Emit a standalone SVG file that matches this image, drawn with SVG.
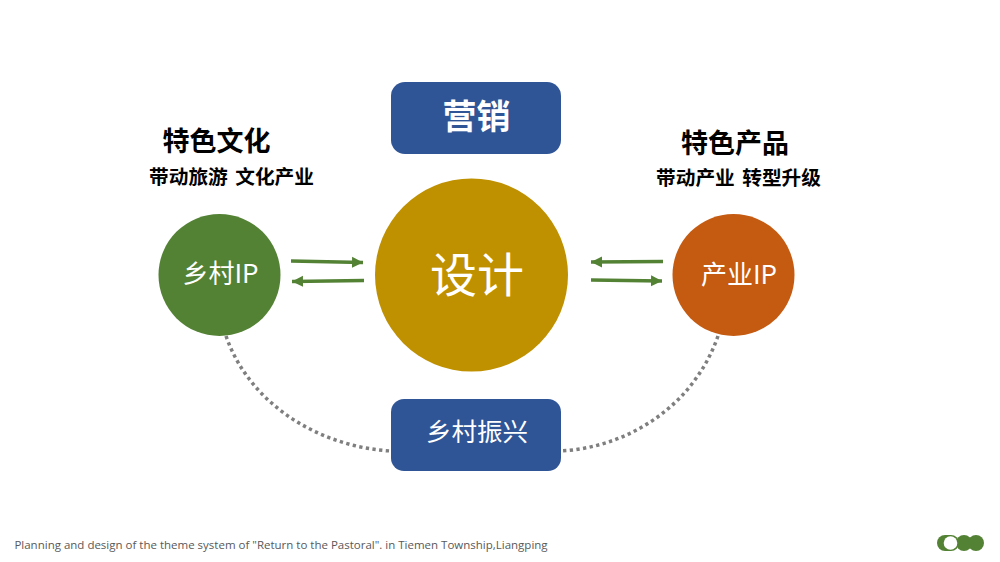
<svg xmlns="http://www.w3.org/2000/svg" width="1000" height="562" viewBox="0 0 1000 562">
<style>
text{font-family:"Noto Sans CJK SC","Liberation Sans",sans-serif;text-anchor:middle}
.w{fill:#fff}
.b{fill:#000;font-weight:700}
.s{font-size:19.700px;word-spacing:3px}
.a{stroke:#548235;stroke-width:3.500;fill:none;marker-end:url(#ah)}
.d{stroke:#7f7f7f;stroke-width:3.500;stroke-dasharray:3.300 3.400;fill:none}
</style>
<defs><marker id="ah" markerUnits="userSpaceOnUse" markerWidth="12" markerHeight="12" refX="11" refY="6" orient="auto"><path d="M0 0.500L11 6L0 11.500z" fill="#548235"/></marker></defs>
<rect width="1000" height="562" fill="#fff"/>
<g id="connectors">
<path class="a" d="M291 261L363 262.500"/>
<path class="a" d="M364 280.500L292 281.500"/>
<path class="a" d="M663 261.500L591 262"/>
<path class="a" d="M591 280L662 281"/>
<path class="d" d="M226 336C250 405 320 447 391 451"/>
<path class="d" d="M718 336C694 405 630 447 561 451"/>
</g>
<g id="node-marketing"><rect x="391" y="82" width="170" height="72" rx="14" fill="#2f5597"/><text class="w" x="476.500" y="129" font-size="34" font-weight="700">营销</text></g>
<g id="node-design"><circle cx="471.500" cy="275" r="96.500" fill="#bf9000"/><text class="w" x="477" y="292" font-size="47">设计</text></g>
<g id="node-village-ip"><circle cx="219.500" cy="275" r="61" fill="#548235"/><text class="w" x="220.500" y="283" font-size="26">乡村IP</text></g>
<g id="node-industry-ip"><circle cx="733.500" cy="275" r="61" fill="#c55a11"/><text class="w" x="739" y="284" font-size="26">产业IP</text></g>
<g id="node-revival"><rect x="391" y="399" width="170" height="72" rx="13" fill="#2f5597"/><text class="w" x="477" y="441" font-size="25.500">乡村振兴</text></g>
<g id="label-left"><text class="b" x="216.500" y="151" font-size="27">特色文化</text><text class="b s" x="231.500" y="184">带动旅游 文化产业</text></g>
<g id="label-right"><text class="b" x="735" y="153" font-size="27">特色产品</text><text class="b s" x="738.500" y="185">带动产业 转型升级</text></g>
<text x="281" y="549" font-size="11.500" fill="#595959" style="font-family:'Open Sans','Liberation Sans',sans-serif">Planning and design of the theme system of "Return to the Pastoral". in Tiemen Township,Liangping</text>
<g id="logo"><circle cx="976" cy="543" r="8" fill="#548235"/><circle cx="964" cy="543" r="8" fill="#548235"/><rect x="937" y="535" width="22" height="16" rx="8" fill="#548235"/><circle cx="950.500" cy="543" r="6.800" fill="#fff"/></g>
</svg>
